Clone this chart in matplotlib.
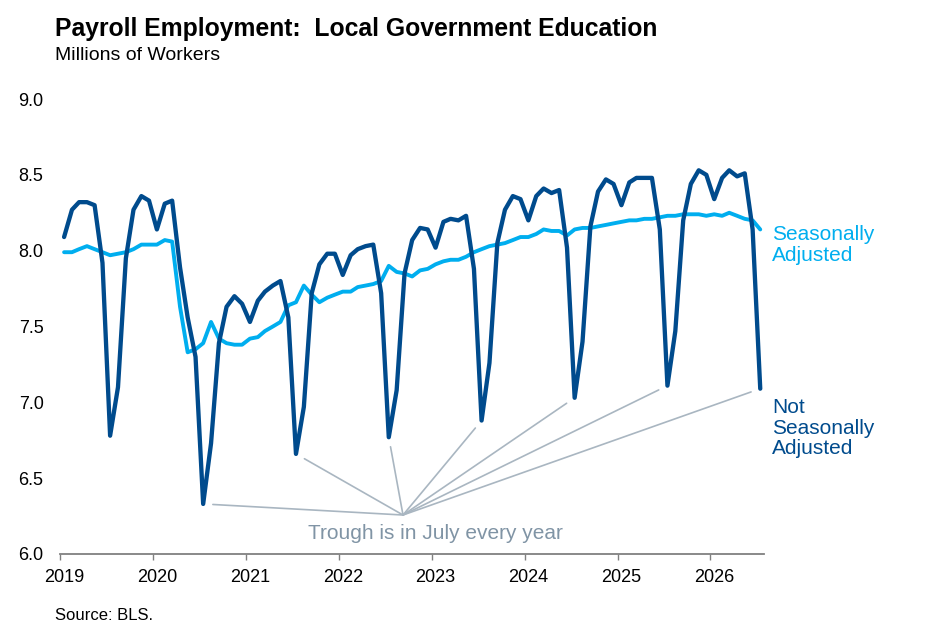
import matplotlib
matplotlib.use("Agg")
import matplotlib.pyplot as plt
import numpy as np
import pandas as pd

plt.rcParams["font.family"] = ["Liberation Sans", "DejaVu Sans"]

# monthly observations, Jan 2019 .. Jul 2026 (millions of workers)
start_month = "2019-01-01"
n_months = 91

nsa = [
    8.09, 8.27, 8.32, 8.32, 8.30, 7.92, 6.78, 7.10, 7.95, 8.27, 8.36, 8.33,  # 2019
    8.14, 8.31, 8.33, 7.89, 7.56, 7.30, 6.33, 6.73, 7.39, 7.63, 7.70, 7.65,  # 2020
    7.53, 7.67, 7.73, 7.77, 7.80, 7.56, 6.66, 6.97, 7.72, 7.91, 7.98, 7.98,  # 2021
    7.84, 7.97, 8.01, 8.03, 8.04, 7.72, 6.77, 7.08, 7.85, 8.07, 8.15, 8.14,  # 2022
    8.02, 8.19, 8.21, 8.20, 8.23, 7.88, 6.88, 7.26, 8.05, 8.27, 8.36, 8.34,  # 2023
    8.20, 8.36, 8.41, 8.38, 8.40, 8.02, 7.03, 7.40, 8.16, 8.39, 8.47, 8.44,  # 2024
    8.30, 8.45, 8.48, 8.48, 8.48, 8.14, 7.11, 7.47, 8.20, 8.44, 8.53, 8.50,  # 2025
    8.34, 8.48, 8.53, 8.49, 8.51, 8.14, 7.09,                                # 2026
]
sa = [
    7.99, 7.99, 8.01, 8.03, 8.01, 7.99, 7.97, 7.98, 7.99, 8.01, 8.04, 8.04,  # 2019
    8.04, 8.07, 8.06, 7.63, 7.33, 7.35, 7.39, 7.53, 7.42, 7.39, 7.38, 7.38,  # 2020
    7.42, 7.43, 7.47, 7.50, 7.53, 7.64, 7.66, 7.77, 7.71, 7.66, 7.69, 7.71,  # 2021
    7.73, 7.73, 7.76, 7.77, 7.78, 7.80, 7.90, 7.86, 7.85, 7.83, 7.87, 7.88,  # 2022
    7.91, 7.93, 7.94, 7.94, 7.96, 7.99, 8.01, 8.03, 8.04, 8.05, 8.07, 8.09,  # 2023
    8.09, 8.11, 8.14, 8.13, 8.13, 8.10, 8.14, 8.15, 8.15, 8.16, 8.17, 8.18,  # 2024
    8.19, 8.20, 8.20, 8.21, 8.21, 8.22, 8.23, 8.23, 8.24, 8.24, 8.24, 8.23,  # 2025
    8.24, 8.23, 8.25, 8.23, 8.21, 8.20, 8.14,                                # 2026
]
y_ticks = [6.0, 6.5, 7.0, 7.5, 8.0, 8.5, 9.0]
year_ticks = list(range(2019, 2027))

DARK = "#004B8D"
LIGHT = "#00AEEF"
GUIDE = "#A9B6C1"
NOTE = "#8094A5"

months = pd.date_range(start_month, periods=n_months, freq="MS")
mid_months = months + pd.Timedelta(days=15)
nsa = np.array(nsa)
sa = np.array(sa)

fig = plt.figure(figsize=(9.33, 6.34), dpi=100)
ax = fig.add_axes([0.0646, 0.1262, 0.7546, 0.7176])

ax.plot(mid_months, sa, color=LIGHT, lw=2.8, solid_joinstyle="round", solid_capstyle="round")
ax.plot(mid_months, nsa, color=DARK, lw=3.1, solid_joinstyle="round", solid_capstyle="round")

ax.set_xlim(months[0], months[-1] + pd.offsets.MonthBegin(1))
ax.set_ylim(6.0, 9.0)
ax.set_yticks(y_ticks)
ax.set_yticklabels([f"{v:.1f}" for v in y_ticks])
ax.tick_params(axis="y", length=0, pad=12, labelsize=13)

# year ticks at each January, labels centred on the January slot
ax.set_xticks([pd.Timestamp(f"{y}-01-01") for y in year_ticks])
ax.set_xticklabels([])
ax.set_xticks([pd.Timestamp(f"{y}-01-16") for y in year_ticks], minor=True)
ax.set_xticklabels([str(y) for y in year_ticks], minor=True)
ax.tick_params(axis="x", which="major", length=4, width=1, color="#808080")
ax.tick_params(axis="x", which="minor", length=0, pad=11, labelsize=13)

for side in ["top", "right", "left"]:
    ax.spines[side].set_visible(False)
ax.spines["bottom"].set_color("#808080")
ax.spines["bottom"].set_linewidth(1.3)

# guide lines from the note to each July trough
hub = (pd.Timestamp("2022-09-10"), 6.257)
for d, v, m in zip(mid_months, nsa, months):
    if m.month == 7 and m.year >= 2020:
        ax.annotate(
            "", xy=(d, v), xytext=hub,
            arrowprops=dict(arrowstyle="-", color=GUIDE, lw=1.2, shrinkA=0, shrinkB=7),
        )
ax.text(pd.Timestamp("2023-01-15"), 6.138, "Trough is in July every year",
        ha="center", va="center", fontsize=15, color=NOTE)

ax.text(pd.Timestamp("2026-09-01"), 8.037, "Seasonally\nAdjusted", color=LIGHT,
        fontsize=15, ha="left", va="center", linespacing=1.12, clip_on=False)
ax.text(pd.Timestamp("2026-09-01"), 6.83, "Not\nSeasonally\nAdjusted", color=DARK,
        fontsize=15, ha="left", va="center", linespacing=1.12, clip_on=False)

fig.text(0.059, 0.9432, "Payroll Employment:  Local Government Education",
         fontsize=17.8, fontweight="bold", va="baseline", ha="left")
fig.text(0.059, 0.9054, "Millions of Workers", fontsize=14, va="baseline", ha="left")
fig.text(0.059, 0.022, "Source: BLS.", fontsize=12, va="baseline", ha="left")

fig.savefig("out.png", dpi=100)
